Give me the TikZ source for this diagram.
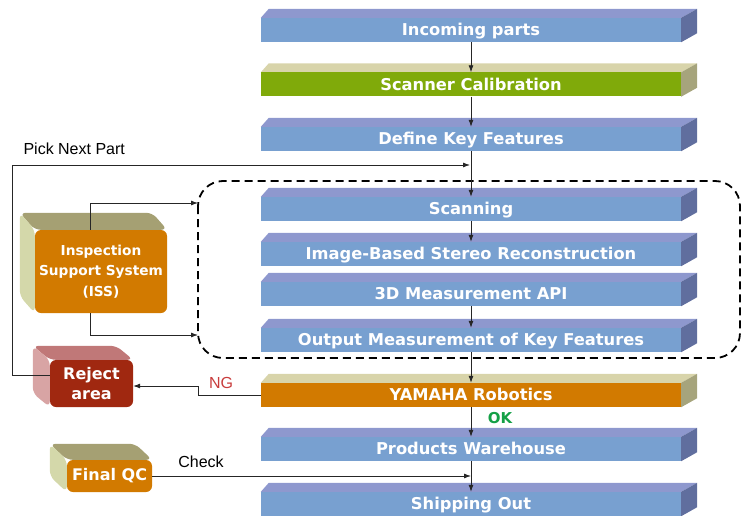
\documentclass[tikz,border=0pt]{standalone}
\usepackage{fontspec}
\setmainfont{DejaVu Sans}
\setsansfont{Liberation Sans}
\usetikzlibrary{arrows.meta, backgrounds}

\definecolor{barblue}{RGB}{120,160,208}
\definecolor{bartopblue}{RGB}{142,152,206}
\definecolor{barsideblue}{RGB}{96,110,158}
\definecolor{bargreen}{RGB}{128,170,10}
\definecolor{barorange}{RGB}{210,122,0}
\definecolor{bartopsand}{RGB}{216,212,170}
\definecolor{barsidesand}{RGB}{166,164,124}
\definecolor{rejred}{RGB}{160,40,16}
\definecolor{rejtop}{RGB}{192,120,120}
\definecolor{rejleft}{RGB}{216,164,164}
\definecolor{olivetop}{RGB}{165,160,115}
\definecolor{oliveleft}{RGB}{212,216,170}
\definecolor{ngred}{RGB}{200,60,60}
\definecolor{okgreen}{RGB}{20,160,70}

\begin{document}
\begin{tikzpicture}[x=1pt, y=-1pt,
    slab/.style={rectangle, minimum width=420pt, minimum height=24pt, inner sep=0pt, text height=11.9pt, text depth=0pt, text=white, font=\fontsize{16.3}{18}\selectfont\bfseries},
    blueslab/.style={slab, fill=barblue},
    greenslab/.style={slab, fill=bargreen},
    orangeslab/.style={slab, fill=barorange},
    block/.style={rectangle, rounded corners=6pt, inner sep=0pt, align=center, text=white, font=\fontsize{16}{20}\selectfont\bfseries},
    zone/.style={draw=black, line width=1.8pt, dash pattern=on 8pt off 5pt, rounded corners=25pt},
    link/.style={-{Latex[length=7pt,width=5pt]}, draw=black!85, line width=0.8pt},
    lbl/.style={font=\sffamily\fontsize{16}{18}\selectfont}
]
\useasboundingbox (0,0) rectangle (741,516);

% Main flow
\node[blueslab] (inc) at (471,30) {Incoming parts};
\node[greenslab] (cal) at (471,84.5) {Scanner Calibration};
\node[blueslab] (key) at (471,139) {Define Key Features};
\node[blueslab] (scan) at (471,209) {Scanning};
\node[blueslab] (img) at (471,254) {Image-Based Stereo Reconstruction};
\node[blueslab] (api) at (471,294) {3D Measurement API};
\node[blueslab] (out) at (471,340) {Output Measurement of Key Features};
\node[orangeslab] (yam) at (471,395) {YAMAHA Robotics};
\node[blueslab] (wh) at (471,449) {Products Warehouse};
\node[blueslab] (ship) at (471,504) {Shipping Out};

% Side blocks
\node[block, fill=barorange, minimum width=132pt, minimum height=83pt, font=\fontsize{13.7}{20.5}\selectfont\bfseries] (iss) at (101,271.5) {Inspection\\Support System\\(ISS)};
\node[block, fill=rejred, minimum width=83pt, minimum height=47pt] (rej) at (91.5,383.5) {Reject\\area};
\node[block, fill=barorange, minimum width=85pt, minimum height=32pt] (fqc) at (109.5,476) {Final QC};

% 3D faces
\begin{scope}[on background layer]
\foreach \n/\tc/\sc in {inc/bartopblue/barsideblue, cal/bartopsand/barsidesand, key/bartopblue/barsideblue,
    scan/bartopblue/barsideblue, img/bartopblue/barsideblue, api/bartopblue/barsideblue, out/bartopblue/barsideblue,
    yam/bartopsand/barsidesand, wh/bartopblue/barsideblue, ship/bartopblue/barsideblue} {
  \fill[\tc] (\n.north west) -- ([shift={(8,-9)}]\n.north west) -- ([shift={(16,-9)}]\n.north east) -- (\n.north east) -- cycle;
  \fill[\sc] (\n.north east) -- ([shift={(16,-9)}]\n.north east) -- ([shift={(16,-9)}]\n.south east) -- (\n.south east) -- cycle;
}
\foreach \n/\dx/\dy/\tc/\lc in {iss/-15/-17/olivetop/oliveleft, rej/-17/-14/rejtop/rejleft, fqc/-17/-16/olivetop/oliveleft} {
  \fill[\tc, rounded corners=6pt] ([shift={(\dx,\dy)}]\n.north west) -- ([shift={(\dx,\dy)}]\n.north east) -- (\n.north east) -- (\n.north west) -- cycle;
  \fill[\lc, rounded corners=6pt] ([shift={(\dx,\dy)}]\n.north west) -- (\n.north west) -- (\n.south west) -- ([shift={(\dx,\dy)}]\n.south west) -- cycle;
}
\end{scope}

% Inspection zone
\draw[zone] (198,181) rectangle (740,358);

% Helper points
\coordinate (pnp) at (470,165);
\coordinate (lft) at (12,165);
\coordinate (issin) at (198,203);
\coordinate (issout) at (198,335);
\coordinate (ngk) at (198,386);

% Arrows
\draw[link] (inc) -- (cal);
\draw[link] (cal) -- (key);
\draw[link] (key) -- (scan);
\draw[link] (scan) -- (img);
\draw[link] (api) -- (out);
\draw[link] (out) -- (yam);
\draw[link] (yam) -- (wh);
\draw[link] (wh) -- (ship);

\draw[link] ([yshift=8pt]rej.west) -| (lft) -- (pnp);
\draw[link] ([xshift=-11pt]iss.north) |- (issin);
\draw[link] ([xshift=-11pt]iss.south) |- (issout);
\draw[link] (yam.west) -| (ngk) -- (ngk -| rej.east);
\draw[link] (fqc.east) -- (fqc.east -| wh.south);

% Labels
\node[lbl, anchor=west] (pnptxt) at (20,149) {Pick Next Part};
\node[lbl, text=ngred] (ng) at (221,383) {NG};
\node[font=\fontsize{15}{18}\selectfont\bfseries, text=okgreen] (ok) at (500,418) {OK};
\node[lbl] (chk) at (201,462) {Check};

\end{tikzpicture}
\end{document}
